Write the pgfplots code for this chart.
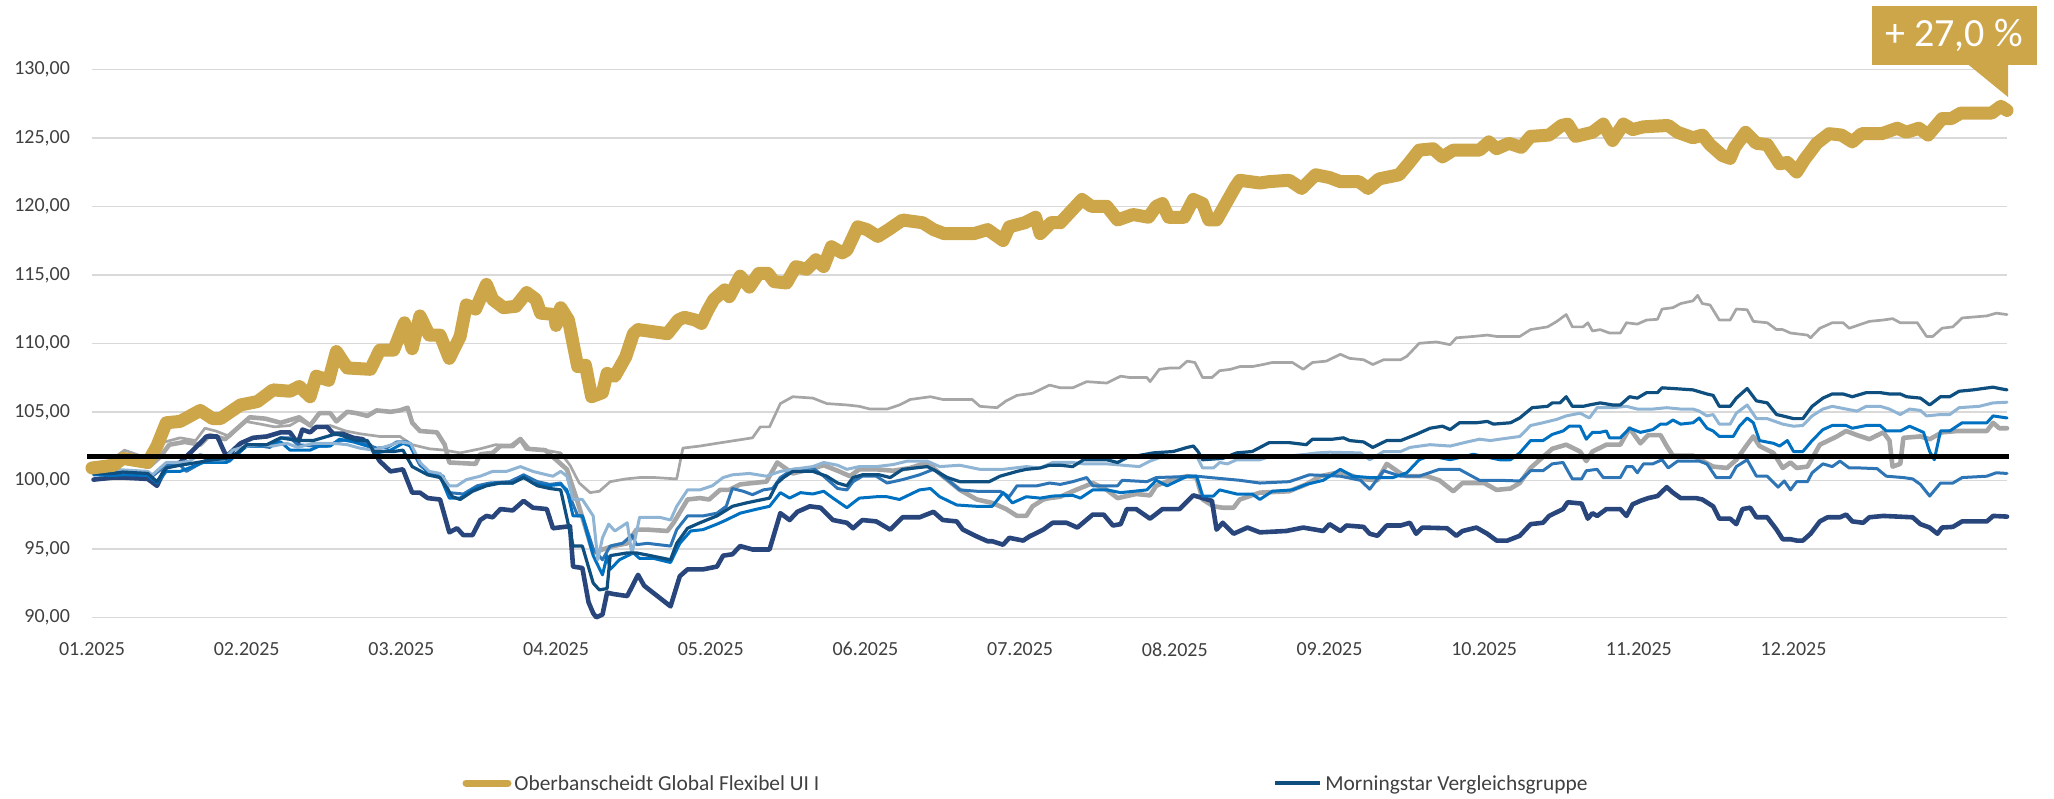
\documentclass[border=0pt]{standalone}
\usepackage{fontspec}
\setmainfont{Carlito}
\usepackage{pgfplots}
\pgfplotsset{compat=1.18}
\definecolor{goldc}{RGB}{205,166,74}
\definecolor{greyc}{RGB}{166,166,166}
\definecolor{navyc}{RGB}{40,70,124}
\definecolor{dblue}{RGB}{14,79,128}
\definecolor{lblue}{RGB}{143,180,212}
\definecolor{bblue}{RGB}{0,112,192}
\definecolor{mblue}{RGB}{46,117,182}
\definecolor{gridc}{RGB}{217,217,217}
\definecolor{tickc}{RGB}{64,64,64}
\begin{document}
\begin{tikzpicture}
\path[use as bounding box] (0,0) rectangle (1027pt,399pt);
\begin{axis}[
  at={(46pt,90.35pt)}, anchor=south west,
  scale only axis, width=957.5pt, height=274pt,
  xmin=0, xmax=12.38, ymin=90, ymax=130,
  clip=false,
  axis line style={draw=none},
  major tick length=0pt,
  ytick={90,95,100,105,110,115,120,125,130},
  yticklabels={{90,00},{95,00},{100,00},{105,00},{110,00},{115,00},{120,00},{125,00},{130,00}},
  xtick={0,1,2,3,4,5,6,7,8,9,10,11},
  xticklabels={01.2025,02.2025,03.2025,04.2025,05.2025,06.2025,07.2025,08.2025,09.2025,10.2025,11.2025,12.2025},
  ymajorgrids,
  grid style={line width=0.75pt, color=gridc},
  tick label style={font=\fontsize{10}{12}\selectfont, text=tickc},
  yticklabel style={anchor=east, xshift=-7.5pt},
  xticklabel style={anchor=north, yshift=-9pt},
  every axis plot/.append style={line join=round, line cap=round},
]
% S1 thin grey
\addplot[greyc, line width=1.35pt] coordinates {
(0.00,100.6) (0.08,101.2) (0.15,101.7) (0.21,102.2) (0.31,101.8) (0.41,101.7) (0.47,102.8) (0.57,103.1) (0.67,102.9) (0.73,103.8) (0.80,103.6) (0.89,103.2) (0.99,104.3) (1.09,104.1) (1.18,103.9) (1.28,104.0) (1.34,104.4) (1.44,103.8) (1.54,104.0) (1.64,103.6) (1.73,103.4) (1.86,103.2) (1.99,103.2) (2.07,102.6) (2.18,102.3) (2.28,102.2) (2.38,102.0) (2.51,102.3) (2.61,102.6) (2.70,102.5) (2.77,103.1) (2.83,102.3) (2.93,102.2) (3.03,102.0) (3.09,101.1) (3.15,99.8) (3.22,99.1) (3.28,99.2) (3.35,99.9) (3.45,100.1) (3.54,100.2) (3.64,100.2) (3.78,100.1) (3.82,102.35) (3.93,102.5) (4.04,102.7) (4.27,103.1) (4.32,103.9) (4.38,103.9) (4.45,105.6) (4.53,106.1) (4.66,106.0) (4.75,105.6) (4.88,105.5) (4.96,105.4) (5.03,105.2) (5.14,105.2) (5.22,105.5) (5.29,105.9) (5.42,106.1) (5.50,105.9) (5.69,105.9) (5.74,105.4) (5.85,105.3) (5.91,105.8) (5.98,106.2) (6.08,106.35) (6.19,106.95) (6.26,106.75) (6.34,106.75) (6.43,107.2) (6.56,107.1) (6.65,107.6) (6.71,107.5) (6.82,107.5) (6.84,107.2) (6.90,108.1) (6.97,108.2) (7.03,108.2) (7.08,108.7) (7.13,108.6) (7.18,107.5) (7.24,107.5) (7.29,108.0) (7.36,108.1) (7.42,108.3) (7.50,108.3) (7.57,108.45) (7.63,108.6) (7.76,108.6) (7.83,108.1) (7.89,108.6) (7.98,108.7) (8.07,109.2) (8.13,108.9) (8.22,108.8) (8.28,108.45) (8.35,108.8) (8.46,108.8) (8.50,109.05) (8.58,110.0) (8.69,110.1) (8.78,109.9) (8.82,110.4) (8.93,110.5) (9.02,110.6) (9.08,110.5) (9.23,110.5) (9.30,111.0) (9.41,111.2) (9.47,111.6) (9.53,112.1) (9.57,111.2) (9.64,111.2) (9.67,111.5) (9.70,110.9) (9.75,111.0) (9.81,110.75) (9.88,110.75) (9.92,111.5) (9.99,111.4) (10.05,111.7) (10.12,111.75) (10.15,112.5) (10.22,112.6) (10.27,112.9) (10.35,113.1) (10.38,113.5) (10.41,112.9) (10.46,112.8) (10.52,111.7) (10.59,111.7) (10.63,112.5) (10.70,112.45) (10.74,111.6) (10.83,111.5) (10.89,111.0) (10.93,111.0) (10.98,110.75) (11.09,110.6) (11.11,110.4) (11.17,111.1) (11.25,111.5) (11.32,111.5) (11.36,111.1) (11.49,111.6) (11.58,111.7) (11.64,111.8) (11.69,111.5) (11.80,111.5) (11.86,110.5) (11.90,110.5) (11.96,111.1) (12.03,111.2) (12.09,111.85) (12.25,112.0) (12.31,112.2) (12.38,112.1)
};
% S2 thick grey
\addplot[greyc, line width=2.3pt] coordinates {
(0.00,100.8) (0.08,100.9) (0.18,101.5) (0.28,101.2) (0.37,101.0) (0.44,101.7) (0.50,102.6) (0.60,102.8) (0.70,102.6) (0.76,103.3) (0.86,103.0) (0.96,104.0) (1.02,104.6) (1.12,104.5) (1.22,104.2) (1.28,104.4) (1.34,104.6) (1.41,104.0) (1.47,104.9) (1.54,104.9) (1.58,104.3) (1.65,105.0) (1.71,104.9) (1.78,104.7) (1.84,105.1) (1.93,105.0) (1.99,105.1) (2.04,105.3) (2.07,104.2) (2.12,103.6) (2.23,103.5) (2.28,102.6) (2.31,101.3) (2.48,101.2) (2.51,101.9) (2.59,102.0) (2.64,102.5) (2.72,102.5) (2.77,103.0) (2.81,102.3) (2.93,102.2) (3.01,101.4) (3.07,100.8) (3.14,98.4) (3.24,94.7) (3.30,94.95) (3.37,95.2) (3.46,95.4) (3.52,96.4) (3.59,96.4) (3.72,96.3) (3.76,96.9) (3.85,98.6) (3.93,98.7) (3.99,98.6) (4.06,99.3) (4.12,99.3) (4.19,99.7) (4.27,99.8) (4.36,99.9) (4.43,101.3) (4.53,100.5) (4.64,100.8) (4.73,101.1) (4.82,100.7) (4.90,100.3) (4.96,100.8) (5.07,100.8) (5.18,100.7) (5.29,100.9) (5.40,101.3) (5.50,100.3) (5.61,99.3) (5.72,98.6) (5.82,98.35) (5.91,97.9) (5.98,97.4) (6.04,97.4) (6.08,98.1) (6.15,98.6) (6.19,98.7) (6.26,98.8) (6.34,99.2) (6.47,99.8) (6.56,99.3) (6.63,98.7) (6.75,99.0) (6.84,98.9) (6.88,99.6) (6.99,100.1) (7.08,100.3) (7.14,100.2) (7.18,98.6) (7.25,98.1) (7.31,98.0) (7.38,98.0) (7.42,98.6) (7.55,99.1) (7.74,99.2) (7.76,99.3) (7.85,99.7) (7.94,100.3) (8.07,100.6) (8.13,100.4) (8.20,100.1) (8.31,100.0) (8.37,101.2) (8.46,100.5) (8.50,100.3) (8.63,100.3) (8.71,100.0) (8.80,99.2) (8.86,99.8) (9.00,99.8) (9.08,99.3) (9.17,99.4) (9.23,99.8) (9.30,100.9) (9.36,101.5) (9.44,102.3) (9.53,102.6) (9.62,102.1) (9.66,101.4) (9.70,102.1) (9.79,102.6) (9.88,102.6) (9.94,103.8) (10.01,102.7) (10.06,103.3) (10.14,103.3) (10.18,102.5) (10.22,101.8) (10.35,101.8) (10.48,101.0) (10.57,100.9) (10.63,101.5) (10.70,102.6) (10.74,103.2) (10.78,102.5) (10.87,102.0) (10.93,100.9) (10.98,101.3) (11.02,100.9) (11.09,101.0) (11.17,102.6) (11.28,103.2) (11.34,103.6) (11.41,103.3) (11.49,103.0) (11.58,103.5) (11.62,102.9) (11.64,101.0) (11.69,101.2) (11.71,103.1) (11.82,103.2) (11.88,103.0) (11.96,103.5) (12.06,103.6) (12.25,103.6) (12.29,104.2) (12.33,103.8) (12.38,103.8)
};
% S3 navy
\addplot[navyc, line width=2.3pt] coordinates {
(0.01,100.05) (0.14,100.2) (0.20,100.2) (0.36,100.1) (0.42,99.6) (0.48,101.0) (0.57,101.3) (0.68,102.5) (0.74,103.2) (0.81,103.2) (0.85,102.2) (0.87,101.75) (0.96,102.7) (1.04,103.1) (1.13,103.2) (1.22,103.5) (1.28,103.5) (1.33,102.7) (1.36,103.7) (1.41,103.5) (1.45,103.9) (1.52,103.9) (1.56,103.4) (1.62,103.4) (1.69,103.1) (1.75,103.0) (1.80,102.5) (1.86,101.4) (1.93,100.65) (2.01,100.8) (2.07,99.1) (2.12,99.1) (2.17,98.7) (2.25,98.6) (2.31,96.2) (2.36,96.5) (2.40,96.0) (2.46,96.0) (2.51,97.1) (2.55,97.4) (2.59,97.3) (2.64,97.9) (2.72,97.8) (2.79,98.5) (2.85,98.0) (2.94,97.9) (2.98,96.5) (3.09,96.65) (3.11,93.7) (3.17,93.6) (3.21,91.1) (3.24,90.3) (3.26,90.0) (3.30,90.2) (3.33,91.8) (3.37,91.7) (3.46,91.55) (3.53,93.1) (3.57,92.3) (3.74,90.8) (3.80,93.0) (3.85,93.5) (3.95,93.5) (4.04,93.7) (4.08,94.5) (4.14,94.6) (4.19,95.2) (4.27,94.95) (4.38,94.95) (4.45,97.6) (4.51,97.1) (4.56,97.7) (4.64,98.1) (4.71,98.0) (4.79,97.1) (4.88,96.9) (4.92,96.5) (4.98,97.1) (5.07,97.0) (5.16,96.4) (5.24,97.3) (5.35,97.3) (5.44,97.7) (5.50,97.1) (5.59,97.0) (5.63,96.4) (5.72,95.9) (5.79,95.55) (5.82,95.55) (5.89,95.3) (5.93,95.8) (6.02,95.6) (6.06,95.9) (6.15,96.4) (6.21,96.9) (6.30,96.9) (6.37,96.55) (6.47,97.5) (6.54,97.5) (6.60,96.7) (6.65,96.8) (6.69,97.9) (6.75,97.9) (6.84,97.2) (6.92,97.9) (7.03,97.9) (7.12,98.9) (7.24,98.5) (7.27,96.4) (7.31,96.9) (7.38,96.1) (7.47,96.55) (7.55,96.2) (7.72,96.3) (7.83,96.55) (7.96,96.3) (8.00,96.8) (8.07,96.3) (8.11,96.7) (8.22,96.6) (8.26,96.1) (8.31,95.95) (8.37,96.7) (8.46,96.7) (8.52,96.9) (8.56,96.1) (8.60,96.55) (8.76,96.5) (8.82,95.95) (8.86,96.3) (8.95,96.55) (9.02,96.1) (9.08,95.6) (9.15,95.6) (9.23,95.95) (9.30,96.8) (9.38,96.9) (9.42,97.4) (9.51,97.9) (9.54,98.4) (9.63,98.3) (9.67,97.2) (9.70,97.6) (9.73,97.4) (9.79,97.9) (9.88,97.9) (9.92,97.4) (9.96,98.25) (10.01,98.5) (10.06,98.7) (10.12,98.85) (10.18,99.5) (10.22,99.1) (10.27,98.7) (10.37,98.7) (10.41,98.6) (10.48,98.1) (10.52,97.2) (10.59,97.2) (10.63,96.8) (10.67,97.9) (10.72,98.0) (10.76,97.3) (10.83,97.3) (10.89,96.4) (10.93,95.7) (10.98,95.7) (11.02,95.6) (11.06,95.6) (11.11,96.1) (11.17,97.0) (11.22,97.3) (11.30,97.3) (11.34,97.5) (11.38,97.0) (11.45,96.9) (11.49,97.3) (11.58,97.4) (11.77,97.3) (11.82,96.8) (11.88,96.55) (11.93,96.1) (11.96,96.55) (12.03,96.6) (12.09,97.0) (12.25,97.0) (12.29,97.4) (12.38,97.35)
};
% S7 medium blue
\addplot[mblue, line width=1.5pt] coordinates {
(0.01,100.65) (0.14,100.6) (0.20,100.65) (0.36,100.6) (0.39,100.3) (0.48,101.1) (0.57,101.1) (0.61,100.65) (0.68,101.1) (0.74,101.5) (0.83,101.3) (0.89,101.4) (0.94,102.0) (1.00,102.5) (1.09,102.5) (1.15,102.4) (1.22,103.1) (1.28,103.1) (1.33,102.6) (1.43,102.5) (1.52,102.5) (1.58,102.8) (1.65,103.0) (1.73,102.9) (1.78,102.6) (1.84,102.35) (1.91,102.4) (1.97,102.8) (2.04,102.8) (2.07,102.2) (2.12,101.1) (2.17,100.65) (2.27,100.3) (2.31,99.1) (2.40,99.0) (2.49,99.6) (2.57,99.8) (2.70,99.9) (2.79,100.4) (2.88,99.9) (2.96,99.7) (3.03,99.8) (3.09,98.8) (3.14,97.4) (3.17,97.4) (3.24,95.0) (3.30,94.2) (3.35,95.2) (3.43,95.4) (3.49,96.0) (3.52,95.3) (3.59,95.4) (3.74,95.2) (3.78,96.4) (3.85,97.4) (3.95,97.4) (4.04,97.6) (4.10,98.1) (4.14,99.4) (4.21,99.2) (4.27,98.95) (4.34,99.3) (4.40,99.4) (4.45,100.2) (4.53,100.8) (4.66,100.9) (4.73,100.3) (4.82,99.4) (4.88,99.3) (4.92,99.9) (4.98,100.3) (5.07,100.3) (5.14,99.8) (5.24,100.05) (5.35,100.4) (5.44,100.8) (5.53,100.05) (5.61,99.3) (5.72,99.2) (5.87,99.2) (5.93,98.8) (5.98,99.6) (6.11,99.6) (6.19,99.8) (6.26,99.7) (6.34,99.9) (6.43,100.2) (6.47,99.6) (6.63,99.6) (6.66,100.0) (6.82,99.9) (6.88,100.2) (7.14,100.3) (7.23,100.2) (7.42,100.0) (7.55,99.8) (7.74,99.9) (7.87,100.4) (8.07,100.3) (8.20,100.0) (8.26,99.35) (8.35,100.7) (8.46,100.3) (8.58,100.3) (8.71,100.8) (8.84,100.8) (8.97,100.0) (9.10,100.0) (9.23,99.95) (9.30,100.7) (9.38,100.7) (9.44,101.2) (9.51,101.3) (9.57,100.1) (9.63,100.1) (9.66,100.7) (9.73,100.8) (9.77,100.2) (9.88,100.2) (9.92,101.0) (9.96,101.0) (9.99,100.55) (10.03,101.2) (10.09,101.2) (10.15,101.5) (10.19,100.9) (10.25,101.4) (10.39,101.4) (10.44,101.2) (10.50,100.2) (10.59,100.2) (10.63,101.0) (10.70,101.5) (10.76,100.3) (10.83,100.3) (10.90,99.5) (10.94,99.95) (10.98,99.3) (11.02,99.9) (11.09,99.9) (11.12,100.55) (11.19,101.2) (11.25,101.0) (11.30,101.4) (11.36,100.9) (11.43,100.9) (11.54,100.85) (11.60,100.3) (11.71,100.2) (11.77,100.1) (11.82,99.7) (11.88,98.85) (11.95,99.8) (12.03,99.8) (12.09,100.2) (12.25,100.3) (12.31,100.55) (12.38,100.5)
};
% S6 bright blue
\addplot[bblue, line width=1.5pt] coordinates {
(0.01,100.4) (0.14,100.35) (0.20,100.4) (0.36,100.35) (0.42,99.8) (0.48,100.65) (0.57,100.65) (0.65,101.0) (0.72,101.3) (0.87,101.3) (0.94,101.9) (1.00,102.5) (1.09,102.5) (1.22,102.8) (1.28,102.2) (1.41,102.2) (1.47,102.5) (1.54,102.5) (1.60,103.0) (1.69,102.8) (1.78,102.5) (1.84,102.0) (1.93,102.2) (2.01,102.7) (2.06,102.5) (2.12,101.3) (2.18,100.4) (2.25,100.3) (2.31,98.7) (2.38,98.7) (2.46,99.3) (2.53,99.6) (2.62,99.8) (2.72,99.8) (2.79,100.3) (2.85,99.8) (2.94,99.6) (3.03,99.7) (3.07,99.3) (3.11,97.4) (3.17,97.4) (3.24,94.5) (3.30,93.1) (3.33,94.5) (3.35,93.5) (3.41,94.2) (3.50,94.7) (3.54,94.3) (3.63,94.3) (3.74,94.0) (3.80,95.4) (3.87,96.3) (3.95,96.4) (4.04,96.8) (4.10,97.1) (4.19,97.6) (4.30,97.9) (4.38,98.1) (4.45,99.1) (4.51,98.7) (4.58,99.1) (4.66,99.0) (4.73,99.2) (4.79,98.7) (4.88,98.0) (4.96,98.7) (5.07,98.8) (5.14,98.8) (5.22,98.6) (5.35,99.3) (5.42,99.4) (5.48,98.8) (5.59,98.2) (5.72,98.1) (5.82,98.1) (5.89,99.1) (5.95,98.35) (6.04,98.8) (6.13,98.7) (6.21,98.85) (6.34,98.9) (6.39,98.7) (6.47,99.3) (6.56,99.3) (6.65,99.1) (6.82,99.3) (6.88,100.0) (6.95,99.6) (7.08,100.3) (7.14,100.3) (7.18,98.85) (7.25,98.85) (7.29,99.3) (7.40,99.0) (7.50,99.0) (7.55,98.6) (7.63,99.2) (7.76,99.3) (7.85,99.7) (7.96,100.0) (8.07,100.8) (8.15,100.3) (8.26,100.2) (8.41,100.2) (8.50,100.55) (8.58,101.5) (8.65,101.8) (8.78,101.5) (8.93,101.9) (9.10,101.5) (9.17,101.5) (9.23,102.0) (9.30,102.9) (9.38,102.9) (9.44,103.35) (9.51,103.6) (9.55,103.95) (9.62,103.95) (9.66,103.0) (9.70,103.5) (9.75,103.5) (9.79,103.6) (9.81,103.1) (9.88,103.1) (9.94,103.8) (10.01,103.5) (10.09,103.7) (10.14,104.1) (10.18,104.1) (10.22,104.4) (10.27,104.1) (10.35,104.2) (10.39,104.55) (10.44,103.8) (10.48,103.6) (10.52,103.2) (10.61,103.2) (10.65,103.95) (10.70,104.55) (10.74,104.2) (10.78,102.9) (10.87,102.7) (10.91,102.5) (10.96,102.9) (11.00,102.1) (11.06,102.1) (11.12,102.9) (11.19,103.7) (11.25,104.0) (11.34,104.0) (11.38,103.8) (11.47,104.0) (11.56,104.0) (11.60,103.6) (11.69,103.6) (11.75,103.95) (11.84,103.5) (11.88,102.1) (11.91,101.5) (11.95,103.6) (12.01,103.6) (12.09,104.2) (12.25,104.2) (12.29,104.7) (12.38,104.55)
};
% S5 light blue
\addplot[lblue, line width=1.5pt] coordinates {
(0.01,100.8) (0.14,100.8) (0.36,100.65) (0.39,100.4) (0.48,101.3) (0.57,101.3) (0.63,101.4) (0.70,101.9) (0.78,101.5) (0.85,101.5) (0.91,102.2) (1.00,102.5) (1.09,102.6) (1.17,102.5) (1.26,102.7) (1.33,102.4) (1.43,102.7) (1.56,102.7) (1.65,102.6) (1.73,102.35) (1.82,102.2) (1.91,102.5) (1.99,102.8) (2.06,102.7) (2.12,101.3) (2.18,100.65) (2.25,100.5) (2.31,99.6) (2.36,99.6) (2.42,100.05) (2.51,100.3) (2.59,100.65) (2.68,100.65) (2.77,101.0) (2.85,100.65) (2.94,100.4) (2.98,100.3) (3.03,100.65) (3.07,100.3) (3.11,98.6) (3.17,98.6) (3.24,97.4) (3.27,94.2) (3.30,95.8) (3.34,96.8) (3.38,96.3) (3.46,96.9) (3.49,94.6) (3.54,97.3) (3.67,97.3) (3.74,97.1) (3.78,98.1) (3.85,99.3) (3.93,99.3) (4.01,99.6) (4.08,100.2) (4.14,100.4) (4.25,100.5) (4.36,100.3) (4.45,100.65) (4.53,100.8) (4.66,101.0) (4.73,101.3) (4.82,101.1) (4.88,100.8) (4.96,101.0) (5.07,101.0) (5.18,101.15) (5.27,101.4) (5.40,101.4) (5.48,101.0) (5.61,101.1) (5.74,100.8) (5.89,100.8) (6.04,101.0) (6.13,100.9) (6.21,101.3) (6.34,101.3) (6.41,101.2) (6.56,101.2) (6.77,101.0) (6.84,101.4) (6.90,101.65) (7.08,101.8) (7.14,101.8) (7.18,100.9) (7.25,100.9) (7.29,101.3) (7.34,101.2) (7.40,101.5) (7.55,101.5) (7.63,101.8) (7.76,101.8) (7.85,101.9) (7.92,102.0) (8.00,102.05) (8.20,102.0) (8.26,101.5) (8.35,102.1) (8.46,102.1) (8.52,102.4) (8.65,102.6) (8.78,102.5) (8.89,102.8) (8.97,103.0) (9.04,102.9) (9.10,103.0) (9.23,103.2) (9.30,104.0) (9.38,104.2) (9.47,104.45) (9.53,104.7) (9.62,104.9) (9.68,104.55) (9.73,105.3) (9.83,105.3) (9.92,105.4) (9.99,105.2) (10.09,105.2) (10.18,105.3) (10.27,105.2) (10.35,105.2) (10.39,105.05) (10.44,104.7) (10.48,104.8) (10.52,104.1) (10.59,104.1) (10.63,104.9) (10.70,105.5) (10.76,104.5) (10.83,104.5) (10.93,104.1) (11.00,103.95) (11.06,104.0) (11.12,104.7) (11.19,105.2) (11.25,105.4) (11.34,105.2) (11.41,105.05) (11.47,105.4) (11.56,105.4) (11.62,105.2) (11.69,104.8) (11.75,105.2) (11.82,105.1) (11.86,104.7) (11.95,104.8) (12.01,104.8) (12.07,105.3) (12.20,105.4) (12.29,105.65) (12.38,105.7)
};
% S4 dark blue (Morningstar)
\addplot[dblue, line width=1.6pt] coordinates {
(0.01,100.5) (0.14,100.5) (0.20,100.6) (0.36,100.5) (0.42,99.9) (0.48,100.9) (0.57,101.1) (0.68,101.3) (0.78,101.5) (0.87,101.6) (0.94,102.0) (1.00,102.6) (1.13,102.6) (1.22,103.1) (1.33,102.9) (1.43,102.9) (1.58,103.4) (1.71,102.9) (1.78,102.9) (1.82,102.1) (1.95,102.1) (2.01,102.2) (2.07,101.0) (2.17,100.4) (2.25,100.2) (2.33,98.8) (2.38,98.6) (2.46,99.2) (2.55,99.6) (2.64,99.8) (2.72,99.8) (2.79,100.2) (2.88,99.6) (2.96,99.4) (3.03,99.3) (3.11,95.2) (3.17,95.2) (3.24,92.5) (3.28,92.0) (3.33,92.1) (3.35,94.5) (3.46,94.7) (3.52,94.7) (3.61,94.5) (3.74,94.2) (3.78,95.4) (3.85,96.5) (3.93,96.9) (4.04,97.4) (4.14,98.1) (4.23,98.35) (4.38,98.7) (4.43,99.8) (4.47,100.2) (4.53,100.65) (4.66,100.65) (4.75,100.3) (4.82,99.8) (4.88,99.6) (4.92,100.2) (4.98,100.4) (5.09,100.4) (5.16,100.2) (5.24,100.8) (5.40,101.0) (5.46,100.65) (5.53,100.2) (5.61,99.9) (5.80,99.9) (5.87,100.3) (5.98,100.65) (6.04,100.8) (6.13,100.9) (6.19,101.1) (6.26,101.1) (6.34,101.0) (6.41,101.5) (6.56,101.5) (6.63,101.3) (6.69,101.65) (6.86,102.0) (6.99,102.1) (7.08,102.4) (7.12,102.5) (7.15,102.1) (7.18,101.5) (7.31,101.6) (7.40,102.0) (7.50,102.1) (7.61,102.75) (7.74,102.75) (7.85,102.6) (7.89,103.0) (8.02,103.0) (8.09,103.1) (8.13,102.9) (8.22,102.8) (8.28,102.4) (8.37,102.9) (8.46,102.9) (8.56,103.35) (8.65,103.8) (8.73,103.95) (8.78,103.7) (8.84,104.2) (8.95,104.2) (9.02,104.3) (9.06,104.1) (9.17,104.2) (9.23,104.55) (9.31,105.3) (9.41,105.4) (9.44,105.65) (9.49,105.65) (9.53,106.1) (9.57,105.4) (9.64,105.4) (9.68,105.5) (9.75,105.65) (9.83,105.5) (9.88,105.5) (9.94,106.1) (9.99,106.0) (10.05,106.4) (10.12,106.4) (10.15,106.75) (10.22,106.7) (10.35,106.6) (10.44,106.3) (10.48,106.2) (10.52,105.4) (10.59,105.4) (10.63,106.0) (10.70,106.7) (10.76,105.8) (10.83,105.65) (10.89,104.8) (10.93,104.7) (11.00,104.5) (11.06,104.5) (11.12,105.4) (11.19,106.0) (11.25,106.3) (11.32,106.3) (11.38,106.1) (11.47,106.4) (11.56,106.4) (11.62,106.3) (11.69,106.3) (11.73,106.1) (11.82,106.0) (11.88,105.5) (11.95,106.1) (12.01,106.1) (12.07,106.5) (12.16,106.6) (12.29,106.8) (12.33,106.7) (12.38,106.6)
};
% Gold fund
\addplot[goldc, line width=6.5pt] coordinates {
(0.00,100.9) (0.14,101.1) (0.20,101.6) (0.36,101.3) (0.42,102.5) (0.48,104.2) (0.57,104.3) (0.70,105.1) (0.78,104.5) (0.83,104.5) (0.96,105.5) (1.07,105.75) (1.17,106.6) (1.28,106.5) (1.34,106.85) (1.41,106.1) (1.45,107.6) (1.53,107.3) (1.58,109.4) (1.65,108.2) (1.80,108.1) (1.86,109.5) (1.95,109.5) (2.02,111.5) (2.07,109.6) (2.12,112.0) (2.18,110.6) (2.25,110.6) (2.31,108.9) (2.38,110.5) (2.42,112.8) (2.48,112.5) (2.55,114.3) (2.59,113.2) (2.66,112.6) (2.74,112.7) (2.81,113.7) (2.87,113.2) (2.90,112.2) (2.99,112.1) (3.00,111.3) (3.03,112.6) (3.08,111.7) (3.14,108.3) (3.19,108.4) (3.23,106.1) (3.30,106.4) (3.33,107.8) (3.38,107.6) (3.45,109.0) (3.50,110.7) (3.53,111.0) (3.72,110.7) (3.79,111.7) (3.83,111.9) (3.90,111.7) (3.94,111.45) (3.98,112.4) (4.02,113.2) (4.06,113.6) (4.09,113.9) (4.12,113.4) (4.19,114.9) (4.25,114.1) (4.31,115.1) (4.37,115.1) (4.41,114.5) (4.49,114.4) (4.55,115.6) (4.62,115.4) (4.68,116.1) (4.73,115.6) (4.78,117.05) (4.85,116.6) (4.88,116.8) (4.95,118.5) (5.01,118.3) (5.08,117.8) (5.15,118.3) (5.24,119.0) (5.37,118.8) (5.44,118.3) (5.51,118.0) (5.64,118.0) (5.70,118.0) (5.79,118.3) (5.89,117.5) (5.93,118.5) (6.03,118.8) (6.10,119.2) (6.13,118.0) (6.20,118.8) (6.26,118.8) (6.40,120.5) (6.46,120.0) (6.56,120.0) (6.63,119.0) (6.73,119.4) (6.83,119.2) (6.88,120.0) (6.92,120.2) (6.96,119.2) (7.06,119.2) (7.12,120.5) (7.18,120.2) (7.22,119.0) (7.27,119.0) (7.32,120.0) (7.39,121.4) (7.42,121.9) (7.55,121.7) (7.61,121.8) (7.74,121.9) (7.82,121.3) (7.91,122.3) (8.00,122.1) (8.07,121.8) (8.19,121.8) (8.25,121.3) (8.32,122.0) (8.45,122.3) (8.51,123.1) (8.58,124.1) (8.67,124.2) (8.73,123.6) (8.80,124.1) (8.97,124.1) (9.03,124.7) (9.08,124.2) (9.16,124.6) (9.24,124.3) (9.30,125.1) (9.42,125.2) (9.50,125.9) (9.54,126.0) (9.59,125.1) (9.70,125.4) (9.77,126.0) (9.83,124.8) (9.90,126.0) (9.96,125.6) (10.03,125.8) (10.19,125.9) (10.25,125.4) (10.35,125.0) (10.41,125.2) (10.46,124.5) (10.54,123.7) (10.59,123.5) (10.62,124.3) (10.69,125.4) (10.76,124.6) (10.83,124.5) (10.91,123.1) (10.96,123.2) (11.02,122.5) (11.07,123.4) (11.15,124.6) (11.23,125.3) (11.31,125.2) (11.38,124.7) (11.44,125.3) (11.57,125.3) (11.67,125.7) (11.73,125.4) (11.81,125.7) (11.87,125.2) (11.96,126.4) (12.02,126.4) (12.08,126.8) (12.28,126.8) (12.34,127.3) (12.38,127.0)
};
% black reference line
\addplot[black, line width=2.7pt, line cap=butt] coordinates {(-0.03,101.72) (12.39,101.72)};
\end{axis}
% callout
\fill[goldc] (936pt,366.5pt) rectangle (1018.5pt,396pt);
\fill[goldc] (984pt,366.8pt) -- (1004pt,366.8pt) -- (1004pt,350.5pt) -- cycle;
\node[text=white, font=\fontsize{20}{24}\selectfont, inner sep=0pt] at (977pt,381.5pt) {+ 27,0 \%};
% legend
\draw[goldc, line width=3.5pt, line cap=round] (233pt,7.5pt) -- (254pt,7.5pt);
\node[anchor=base west, inner sep=0pt, text=tickc, font=\fontsize{10.7}{12}\selectfont] at (257pt,4pt) {Oberbanscheidt Global Flexibel UI I};
\draw[dblue, line width=1.6pt] (637.5pt,7.5pt) -- (660pt,7.5pt);
\node[anchor=base west, inner sep=0pt, text=tickc, font=\fontsize{10.7}{12}\selectfont] at (662.5pt,4pt) {Morningstar Vergleichsgruppe};
\end{tikzpicture}
\end{document}
